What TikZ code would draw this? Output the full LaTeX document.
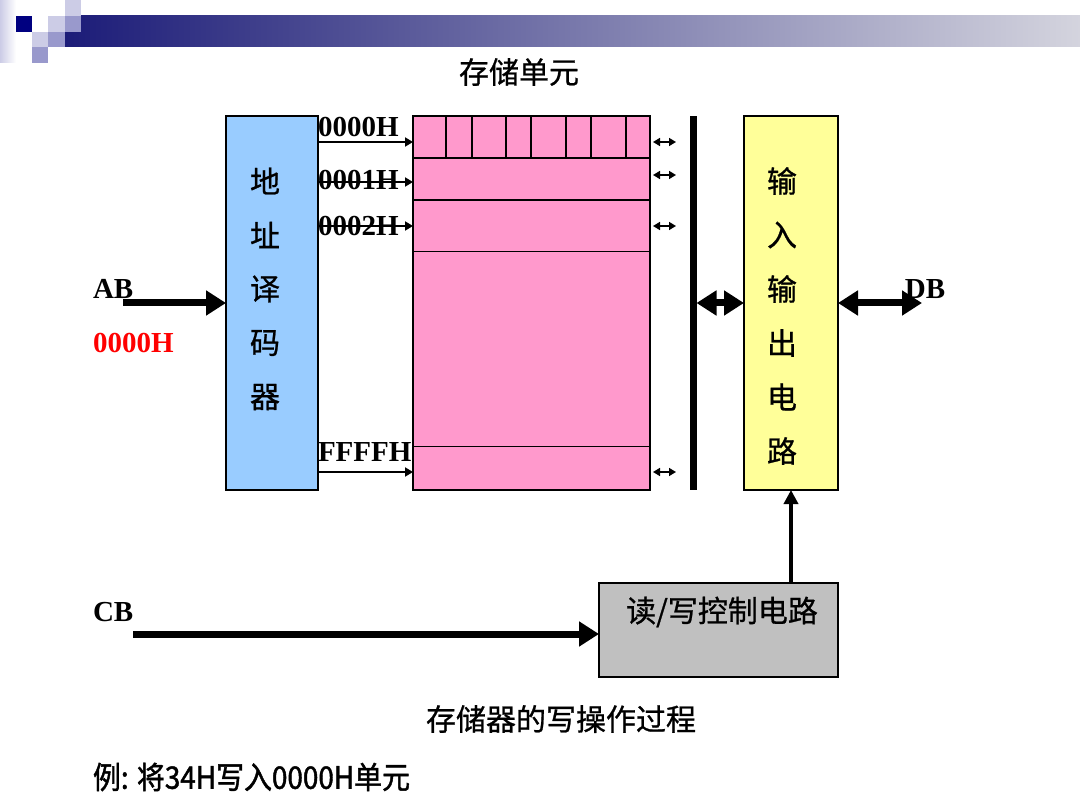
\documentclass[tikz,border=0pt]{standalone}
\usepackage{fontspec}
\setmainfont{Liberation Serif}
\newfontfamily\cjk[FakeBold=0.8]{Noto Sans CJK SC}
\newfontfamily\cjknarrow[FakeStretch=0.9,FakeBold=1.4]{Noto Sans CJK SC}
\usetikzlibrary{arrows.meta}

\definecolor{decblue}{HTML}{99CCFF}
\definecolor{cellpink}{HTML}{FF99CC}
\definecolor{ioyellow}{HTML}{FFFF99}
\definecolor{ctrlgray}{HTML}{C0C0C0}
\definecolor{hdnavy}{HTML}{1C1C78}
\definecolor{hdend}{HTML}{D4D4DE}
\definecolor{hdlight}{HTML}{CCCCE6}
\definecolor{hdmid}{HTML}{9999CC}
\definecolor{hddark}{HTML}{000080}

\begin{document}
\begin{tikzpicture}[x=1pt,y=-1pt]
\tikzstyle{every node}+=[inner sep=0pt,outer sep=0pt]
\tikzstyle{box}=[draw=black,line width=1.5pt,anchor=north west]
\tikzstyle{lbl}=[font=\fontsize{29}{31}\selectfont\bfseries]
\tikzstyle{cjktxt}=[font=\cjk\fontsize{30}{34}\selectfont]
\tikzstyle{addr}=[black,line width=1.8pt,-{Triangle[length=8pt,width=9pt]}]
\tikzstyle{tiny}=[black,line width=1.6pt,{Triangle[length=7pt,width=8pt]}-{Triangle[length=7pt,width=8pt]}]
\tikzstyle{fat}=[black,line width=7pt,-{Triangle[length=20pt,width=24pt]}]
\tikzstyle{fatboth}=[black,line width=7pt,{Triangle[length=20pt,width=24pt]}-{Triangle[length=20pt,width=24pt]}]
\tikzstyle{upline}=[black,line width=4pt,-{Triangle[length=14pt,width=14pt]}]
\useasboundingbox (0,0) rectangle (1080,810);
% header
\shade [left color=hdlight,right color=white] (0,0) rectangle (16,63);
\shade [left color=hdnavy,right color=hdend] (65,16) rectangle (1080,47);
\fill [hddark] (16,16) rectangle (32,32);
\fill [hdlight] (65,0) rectangle (81,16);
\fill [hdlight] (48,16) rectangle (65,32);
\fill [hdlight] (32,32) rectangle (48,47);
\fill [hdmid] (65,16) rectangle (81,32);
\fill [hdmid] (48,32) rectangle (65,47);
\fill [hdmid] (32,47) rectangle (48,63);
% title
\node [cjktxt] (title) at (519,72) {存储单元};
% address decoder
\node [box,fill=decblue,minimum width=92pt,minimum height=374pt] (dec) at (226,116) {};
\foreach \ch [count=\i] in {地,址,译,码,器}
  \node [cjktxt] (dec\i) at (265,127+54*\i) {\ch};
% memory cells
\node [box,fill=cellpink,minimum width=237pt,minimum height=42pt] (row0) at (413,116) {};
\node [box,fill=cellpink,minimum width=237pt,minimum height=42pt] (row1) at (413,158) {};
\node [box,fill=cellpink,minimum width=237pt,minimum height=52pt] (row2) at (413,200) {};
\node [box,fill=cellpink,minimum width=237pt,minimum height=195pt,line width=1pt] (row3) at (413,252) {};
\node [box,fill=cellpink,minimum width=237pt,minimum height=43pt,line width=1pt] (row4) at (413,447) {};
\draw [black,line width=1.5pt] (row0.north west) rectangle (row4.south east);
\foreach \x in {446,472,506,531,566,591,626}
  \draw [black,line width=1.5pt] (\x,116) -- (\x,158);
% address lines
\node [lbl,anchor=west] (a0) at (318,127) {0000H};
\node [lbl,anchor=west] (a1) at (318,180) {0001H};
\node [lbl,anchor=west] (a2) at (318,226) {0002H};
\node [lbl,anchor=west] (a3) at (318,452) {FFFFH};
\draw [addr] ([yshift=-5pt]row0.west -| dec.east) -- ([yshift=-5pt]row0.west);
\draw [addr] ([yshift=-3pt]row1.west -| dec.east) -- ([yshift=-3pt]row1.west);
\draw [addr] (row2.west -| dec.east) -- (row2.west);
\draw [addr] ([yshift=-3.5pt]row4.west -| dec.east) -- ([yshift=-3.5pt]row4.west);
% data lines
\foreach \y [count=\i] in {142,175,226,472}
  \coordinate (d\i) at (676,\y);
\foreach \i in {1,...,4}
  \draw [tiny] ([xshift=3pt]d\i -| row0.east) -- (d\i);
\node [fill=black,minimum width=7pt,minimum height=374pt,anchor=north] (bus) at (693,116) {};
% input/output circuit
\node [box,fill=ioyellow,minimum width=94pt,minimum height=374pt] (io) at (744,116) {};
\foreach \ch [count=\i] in {输,入,输,出,电,路}
  \node [cjktxt] (io\i) at (782,127+54*\i) {\ch};
\draw [fatboth] (bus.east) -- (io.west);
\coordinate (dbout) at (922,303);
\draw [fatboth] (io.east) -- (dbout);
\node [lbl] (db) at (925,289) {DB};
% address bus
\node [lbl,anchor=west] (ab) at (93,289) {AB};
\node [lbl,anchor=west,text=red] (abval) at (93,343) {0000H};
\coordinate (abin) at (123,303);
\draw [fat] (abin) -- (abin -| dec.west);
% control
\node [box,fill=ctrlgray,minimum width=239pt,minimum height=94pt] (ctrl) at (599,583) {};
\node [cjktxt] (ctrltxt) at (722,612) {读/写控制电路};
\draw [upline] (io.south |- ctrl.north) -- (io.south);
\node [lbl,anchor=west] (cb) at (93,612) {CB};
\coordinate (cbin) at (133,634);
\draw [fat] (cbin) -- (cbin -| ctrl.west);
% captions
\node [cjktxt] (caption) at (561,719) {存储器的写操作过程};
\node [font=\cjknarrow\fontsize{31}{34}\selectfont,anchor=west] (example) at (93,777) {例: 将34H写入0000H单元};
\end{tikzpicture}
\end{document}
